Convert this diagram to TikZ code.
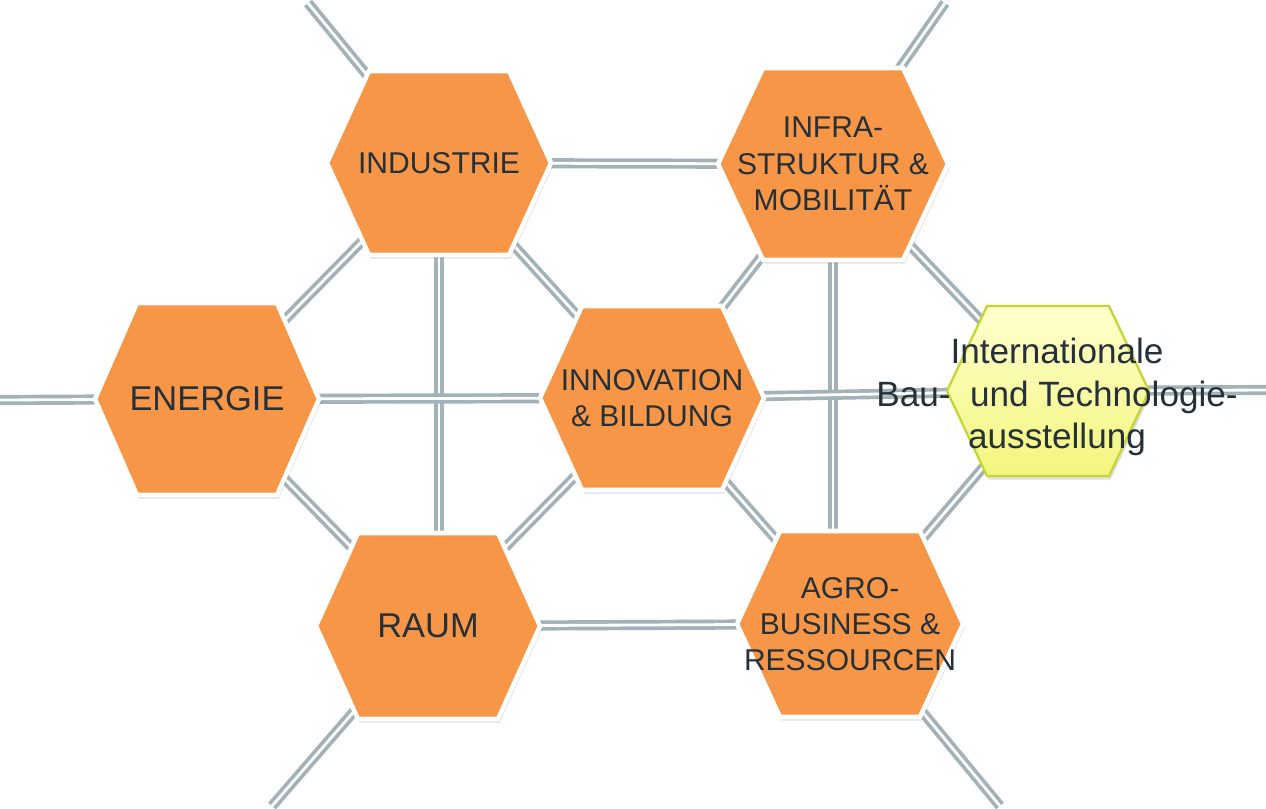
\documentclass[tikz,border=0pt]{standalone}
\usepackage{fontspec}
\setmainfont{Liberation Sans}
\usetikzlibrary{shadows}
\definecolor{hexorange}{RGB}{247, 150, 70}
\definecolor{linkgray}{RGB}{162, 178, 184}
\definecolor{textdark}{RGB}{38, 48, 56}
\definecolor{ibalight}{RGB}{255, 255, 205}
\definecolor{ibamid}{RGB}{242, 246, 125}
\definecolor{ibaedge}{RGB}{196, 214, 52}

% hexagon round a named centre: #1 centre, #2 style, #3 half width, #4 half top, #5 half height
\newcommand{\hexcell}[5]{%
  \path [#2, shift={(#1)}] (-#3, 0) -- (-#4, -#5) -- (#4, -#5) -- (#3, 0)
        -- (#4, #5) -- (-#4, #5) -- cycle;}

\tikzset{
  link/.style={draw=linkgray, line width=2.1pt, double=white, double distance=1.6pt},
  orangehex/.style={fill=hexorange, draw=white, line width=2.6pt,
    drop shadow={shadow xshift=1pt, shadow yshift=-2pt, opacity=0.25}},
  ibahex/.style={top color=ibalight, bottom color=ibamid, draw=ibaedge, line width=1.3pt,
    drop shadow={shadow xshift=1pt, shadow yshift=-2pt, opacity=0.25}},
  hexlabel/.style={text=textdark, align=center, inner sep=0pt,
    font=\fontsize{17.1}{20.6}\selectfont},
  biglabel/.style={hexlabel, font=\fontsize{19.6}{23}\selectfont},
  ibalabel/.style={hexlabel, font=\fontsize{20}{24}\selectfont}
}

\begin{document}
\begin{tikzpicture}[x=0.02cm, y=-0.02cm]

  \useasboundingbox (0, 0) rectangle (1266, 808);

  \coordinate (indus) at (439, 163);
  \coordinate (infra) at (833, 164);
  \coordinate (energ) at (207, 399);
  \coordinate (innov) at (652, 398);
  \coordinate (iba)   at (1048, 391);
  \coordinate (raum)  at (428, 626);
  \coordinate (agro)  at (850, 624);

  % free ends at the picture's border
  \coordinate (nwend) at (308, 3);
  \coordinate (neend) at (945, 3);
  \coordinate (wend)  at (0, 400);
  \coordinate (eend)  at (1266, 390);
  \coordinate (swend) at (272, 806);
  \coordinate (seend) at (1000, 806);

  % connectors
  \draw [link] (nwend) -- (indus);
  \draw [link] (neend) -- (infra);
  \draw [link] (wend) -- (energ);
  \draw [link] (eend) -- (iba);
  \draw [link] (swend) -- (raum);
  \draw [link] (seend) -- (agro);

  \draw [link] (indus) -- (infra);
  \draw [link] (indus) -- (energ);
  \draw [link] (indus) -- (innov);
  \draw [link] (indus) -- (indus |- raum);
  \draw [link] (infra) -- (innov);
  \draw [link] (infra) -- (iba);
  \draw [link] (infra) -- (infra |- agro);
  \draw [link] (energ) -- (innov);
  \draw [link] (energ) -- (raum);
  \draw [link] (innov) -- (iba);
  \draw [link] (innov) -- (raum);
  \draw [link] (innov) -- (agro);
  \draw [link] (iba) -- (agro);
  \draw [link] (raum) -- (agro);

  % hexagons
  \hexcell{indus}{orangehex}{112}{70}{92}
  \hexcell{infra}{orangehex}{115}{70}{96}
  \hexcell{energ}{orangehex}{112}{70}{96}
  \hexcell{innov}{orangehex}{112}{70}{92}
  \hexcell{raum}{orangehex}{112}{70}{93}
  \hexcell{agro}{orangehex}{113}{70}{93}
  \hexcell{iba}{ibahex}{101}{61}{85}

  % labels
  \node [hexlabel] (indus-t) at (indus) {INDUSTRIE};
  \node [hexlabel] (infra-t) at (infra) {INFRA-\\STRUKTUR \&\\MOBILITÄT};
  \node [biglabel] (energ-t) at (energ) {ENERGIE};
  \node [hexlabel] (innov-t) at (innov) {INNOVATION\\\& BILDUNG};
  \node [biglabel] (raum-t) at (raum) {RAUM};
  \node [hexlabel] (agro-t) at (agro) {AGRO-\\BUSINESS \&\\RESSOURCEN};
  \node [ibalabel, xshift=0.18cm, yshift=-0.12cm] (iba-t) at (iba)
        {Internationale\\Bau-\ \ und Technologie-\\ausstellung};

\end{tikzpicture}
\end{document}
